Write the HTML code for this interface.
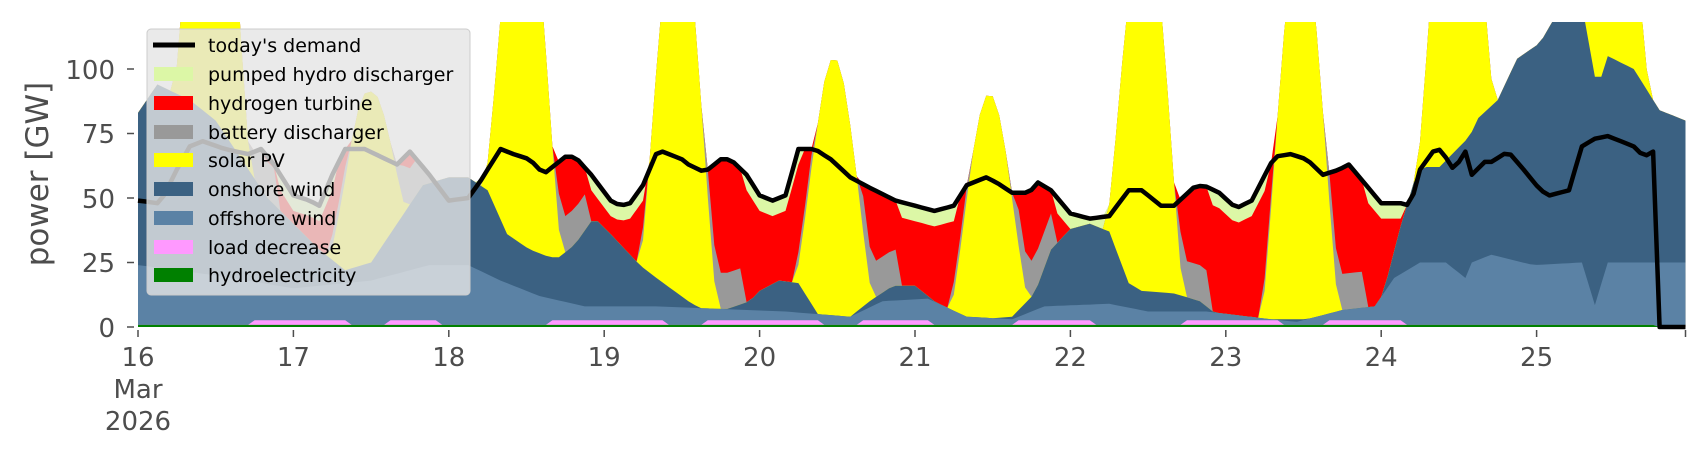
<!DOCTYPE html>
<html><head><meta charset="utf-8"><style>
html,body{margin:0;padding:0;background:#fff;}
svg{display:block;font-family:"DejaVu Sans","Liberation Sans",sans-serif;}
</style></head><body>
<svg id="s" width="1706" height="460" viewBox="0 0 1706 460" xmlns="http://www.w3.org/2000/svg">
<defs><clipPath id="cp"><rect x="138" y="22" width="1548" height="306"/></clipPath></defs>
<g id="plot" clip-path="url(#cp)"></g>
<g id="axes" fill="#4d4d4d" font-size="26">
<text x="115" y="337" text-anchor="end">0</text>
<text x="115" y="272" text-anchor="end">25</text>
<text x="115" y="208" text-anchor="end">50</text>
<text x="115" y="143" text-anchor="end">75</text>
<text x="115" y="79" text-anchor="end">100</text>
<g stroke="#4d4d4d" stroke-width="1.5">
<line x1="127" y1="327" x2="134" y2="327"/><line x1="127" y1="262.5" x2="134" y2="262.5"/>
<line x1="127" y1="198" x2="134" y2="198"/><line x1="127" y1="133.5" x2="134" y2="133.5"/>
<line x1="127" y1="69" x2="134" y2="69"/>
</g>
<g id="xt" stroke="#4d4d4d" stroke-width="1.5"></g>
<text x="138" y="366" text-anchor="middle">16</text>
<text x="138" y="398" text-anchor="middle">Mar</text>
<text x="138" y="430" text-anchor="middle">2026</text>
<text x="293.4" y="366" text-anchor="middle">17</text>
<text x="448.8" y="366" text-anchor="middle">18</text>
<text x="604.2" y="366" text-anchor="middle">19</text>
<text x="759.6" y="366" text-anchor="middle">20</text>
<text x="915" y="366" text-anchor="middle">21</text>
<text x="1070.4" y="366" text-anchor="middle">22</text>
<text x="1225.8" y="366" text-anchor="middle">23</text>
<text x="1381.2" y="366" text-anchor="middle">24</text>
<text x="1536.6" y="366" text-anchor="middle">25</text>
<text transform="translate(48,174) rotate(-90)" text-anchor="middle" font-size="31">power [GW]</text>
</g>
<g id="legend">
<rect x="147" y="29" width="323" height="266" rx="4" fill="#e5e5e5" fill-opacity="0.8" stroke="#cccccc" stroke-width="1"/>
<line x1="153" y1="45" x2="195" y2="45" stroke="#000" stroke-width="5"/>
<rect x="154" y="67" width="39" height="14" fill="#dcf7a6"/>
<rect x="154" y="96" width="39" height="14" fill="#ff0000"/>
<rect x="154" y="125" width="39" height="14" fill="#999999"/>
<rect x="154" y="153" width="39" height="14" fill="#ffff00"/>
<rect x="154" y="182" width="39" height="14" fill="#3b6182"/>
<rect x="154" y="211" width="39" height="14" fill="#5b82a5"/>
<rect x="154" y="240" width="39" height="14" fill="#ff99ff"/>
<rect x="154" y="268" width="39" height="14" fill="#008000"/>
<g font-size="19" fill="#000">
<text x="208" y="52">today's demand</text>
<text x="208" y="81">pumped hydro discharger</text>
<text x="208" y="110">hydrogen turbine</text>
<text x="208" y="139">battery discharger</text>
<text x="208" y="167">solar PV</text>
<text x="208" y="196">onshore wind</text>
<text x="208" y="225">offshore wind</text>
<text x="208" y="254">load decrease</text>
<text x="208" y="282">hydroelectricity</text>
</g>
</g>
</svg>
<script>
(function(){
var NS="http://www.w3.org/2000/svg";
function X(t){return 138+t*6.475;}
function Y(g){return 327-g*2.58;}
function f(L,t){if(t<=L[0][0])return L[0][1];for(var i=1;i<L.length;i++){if(t<=L[i][0]){var a=L[i-1],b=L[i];return a[1]+(b[1]-a[1])*(t-a[0])/(b[0]-a[0]);}}return L[L.length-1][1];}
var D=[[0,49],[3,48],[4,51],[6,61],[8,70],[10,72],[13.4,69],[17,67],[19,69],[21,63],[24,51],[26.5,49],[28,47],[30,59],[32,69],[35,69],[40,63],[42,68],[45,59],[48,49],[51,50],[53,57],[56,69],[58,67],[60.5,65],[62,61],[63,60],[64,62],[66,66],[67.5,66],[70,59],[73,49],[74.5,47],[76,48],[78,55],[80,67],[81,68],[84,65],[85,63],[87.5,60],[88,61],[90,65],[91.5,65],[94,59],[96,51],[98,49],[100,51],[102,69],[104.5,69],[107,65],[110,58],[113,54],[117,49],[120,47],[123,45],[126,47],[128,55],[131,58],[132.6,56],[135,52],[137.6,52],[139,56],[141,53],[144,44],[147,42],[150,43],[153,53],[155,53],[158,47],[160,47],[163,54],[164.5,55],[167,52],[169.6,46],[172,49],[175.5,66],[178,67],[180.5,65],[183,59],[185.5,61],[187,63],[190,54],[192,48],[195,48],[196.5,47],[198,61],[200,68],[201.5,69],[202.7,61],[204,64],[205,68],[206,59],[208,64],[209,64],[211.6,68],[214,61],[216.6,53],[218,51],[221,53],[223,70],[225,73],[227,74],[229,72],[231,70],[232.6,66],[234,68],[234.6,68],[235,0],[239,0]];
var ON=[[0,83],[3,94],[8,88],[12,80],[16,65],[20,50],[24,40],[28,30],[32,22],[36,25],[40,40],[44,55],[48,58],[51,58],[54,53],[57,36],[60.5,30],[63.6,27],[65,27],[67.5,32],[70,41],[71,41],[73,36],[77.5,24],[80.6,18],[85,10],[87,7],[91,7],[94.5,10],[96,14],[99,18],[102,17],[105,5],[110,4],[113,10],[116.6,16],[120,16],[123,10],[126.7,4],[130,3],[135,4],[138.5,13],[141,30],[144,38],[147,40],[150,37],[153,17],[155,14],[160,13],[164,10],[167,4],[172,3],[180.5,3],[189,4],[192,10],[195,39],[197.5,60],[198.5,62],[201,62],[205.7,74],[207,81],[210,88],[213,104],[216.5,110],[220,125],[223,125],[225,97],[226,97],[227,105],[231,100],[235,84],[239,80]];
var OFF=[[0,24],[6,22],[12,20],[24,15],[36,18],[45,24],[51,24],[56,18],[62,12],[69,8],[80,8],[90,7],[100,6],[110,4],[115,10],[122,11],[128,4],[135,3],[140,8],[150,9],[156,6],[165,6],[175,3],[179,2],[186,6.6],[191,8],[194,19],[198,25],[202,25],[205,19],[206,25],[209,28],[215.5,24],[223,25],[225,8.5],[227,25],[239,25]];
var PK=[150,67,150,150,100,87,150,150,150,110];
var LD=[[18,32],[39,46],[64,81],[88,105],[112,122],[136,147],[162,176],[184,195]];
var layers={hy:[],ld:[],off:[],on:[],sol:[],bat:[],h2:[],pu:[]},dem=[];
for(var t=0;t<=239;t++){
 var d=Math.floor(t/24),hh=t%24;
 var hy=t<=234?0.8:0;
 var L=0;for(var k=0;k<LD.length;k++){if(t>=LD[k][0]&&t<=LD[k][1])L=1.8;}
 var cl=hy+L;
 var co=Math.max(f(OFF,t),cl);
 var cn=Math.max(f(ON,t),co);
 var sv=Math.sin(Math.PI*(hh-5.5)/12);var S=sv>0?PK[d]*Math.pow(sv,1.3):0;
 var cs=cn+S;
 var de=f(D,t);dem.push(de);
 var G=Math.max(0,de-cs);
 var bc=(hh>=15&&hh<=21)?14:((hh>=6&&hh<=8)?5:0);
 var b=Math.min(G,bc);
 var pc=(hh>=22||hh<=6)?6:0;
 var p=Math.min(G-b,pc);
 var h2=G-b-p;
 layers.hy.push(hy);layers.ld.push(cl);layers.off.push(co);layers.on.push(cn);
 layers.sol.push(cs);layers.bat.push(cs+b);layers.h2.push(cs+b+h2);layers.pu.push(cs+b+h2+p);
}
var order=[["pu","#dcf7a6"],["h2","#ff0000"],["bat","#999999"],["sol","#ffff00"],["on","#3b6182"],["off","#5b82a5"],["ld","#ff99ff"],["hy","#008000"]];
var g=document.getElementById("plot");
order.forEach(function(o){
 var a=layers[o[0]],s="M"+X(0)+","+Y(0);
 for(var i=0;i<a.length;i++)s+=" L"+X(i).toFixed(1)+","+Y(a[i]).toFixed(1);
 s+=" L"+X(239)+","+Y(0)+" Z";
 var p=document.createElementNS(NS,"path");p.setAttribute("d",s);p.setAttribute("fill",o[1]);g.appendChild(p);
});
var s="";
for(var i=0;i<dem.length;i++)s+=(i?" L":"M")+X(i).toFixed(1)+","+Y(dem[i]).toFixed(1);
var p=document.createElementNS(NS,"path");p.setAttribute("d",s);p.setAttribute("fill","none");p.setAttribute("stroke","#000");p.setAttribute("stroke-width","4.5");p.setAttribute("stroke-linejoin","round");
var svg=document.getElementById("s");
svg.insertBefore(p,document.getElementById("axes"));
var xt=document.getElementById("xt");
for(var k=0;k<=10;k++){var x=138+k*155.4;if(k==10)x=1685.5;var l=document.createElementNS(NS,"line");l.setAttribute("x1",x);l.setAttribute("x2",x);l.setAttribute("y1",330);l.setAttribute("y2",337);xt.appendChild(l);}
})();
</script>
</body></html>
